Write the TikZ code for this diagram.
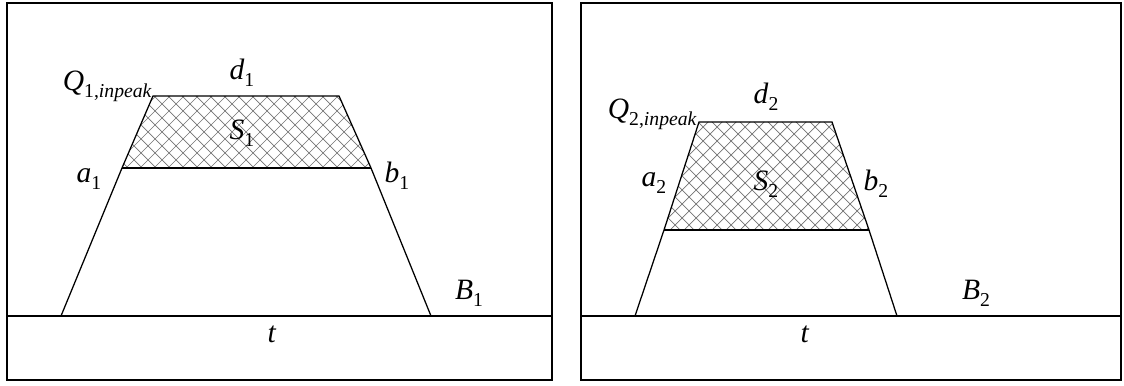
\documentclass[tikz,border=0pt]{standalone}
\usepackage{fontspec}
\setmainfont{Liberation Serif}
\usetikzlibrary{positioning,calc}

\newcommand{\lab}[2]{\textit{#1}\raisebox{-0.45ex}{\fontsize{14}{16}\selectfont #2}}

\tikzset{
    frame/.style={line width=1.4pt},
    side/.style={line width=0.9pt},
    hatch/.style={black!55, line width=0.5pt},
    lbl/.style={font=\fontsize{21}{24}\selectfont, inner sep=0pt}
}

\begin{document}
\begin{tikzpicture}[x=0.025cm, y=-0.025cm]
    \useasboundingbox (0,0) rectangle (1124,386);

    % Left panel
    \draw[frame] (7,3) rectangle (552,380);
    \draw[frame] (7,316) -- (552,316);
    \coordinate (L0) at (61,316);
    \coordinate (L1) at (122,168);
    \coordinate (L2) at (153,96);
    \coordinate (L3) at (339,96);
    \coordinate (L4) at (371,168);
    \coordinate (L5) at (431,316);
    \begin{scope}
        \clip (L1) -- (L2) -- (L3) -- (L4) -- cycle;
        \foreach \k in {-30,...,30} {
            \draw[hatch] ({246+\k*14-150},-18) -- ++(300,300);
            \draw[hatch] ({246+\k*14+150},-18) -- ++(-300,300);
        }
    \end{scope}
    \draw[side] (L0) -- (L1) -- (L2) -- (L3) -- (L4) -- (L5);
    \draw[side] (L1) -- (L4);
    \node[lbl, anchor=base east] (q1) at (152,91) {\lab{Q}{1,\textit{inpeak}}};
    \node[lbl, anchor=base] (d1) at (242,80) {\lab{d}{1}};
    \node[lbl, anchor=base] (s1) at (242,140) {\lab{S}{1}};
    \node[lbl, anchor=base] (a1) at (89,183) {\lab{a}{1}};
    \node[lbl, anchor=base] (b1) at (397,183) {\lab{b}{1}};
    \node[lbl, anchor=base] (B1) at (469,300) {\lab{B}{1}};
    \node[lbl, anchor=base] (t1) at (272,342) {\textit{t}};

    % Right panel
    \draw[frame] (581,3) rectangle (1121,380);
    \draw[frame] (581,316) -- (1121,316);
    \coordinate (R0) at (635,316);
    \coordinate (R1) at (664,230);
    \coordinate (R2) at (699,122);
    \coordinate (R3) at (832,122);
    \coordinate (R4) at (869,230);
    \coordinate (R5) at (897,316);
    \begin{scope}
        \clip (R1) -- (R2) -- (R3) -- (R4) -- cycle;
        \foreach \k in {-30,...,30} {
            \draw[hatch] ({766+\k*14-150},26) -- ++(300,300);
            \draw[hatch] ({766+\k*14+150},26) -- ++(-300,300);
        }
    \end{scope}
    \draw[side] (R0) -- (R1) -- (R2) -- (R3) -- (R4) -- (R5);
    \draw[side] (R1) -- (R4);
    \node[lbl, anchor=base east] (q2) at (697,119) {\lab{Q}{2,\textit{inpeak}}};
    \node[lbl, anchor=base] (d2) at (766,104) {\lab{d}{2}};
    \node[lbl, anchor=base] (s2) at (766,191) {\lab{S}{2}};
    \node[lbl, anchor=base] (a2) at (654,187) {\lab{a}{2}};
    \node[lbl, anchor=base] (b2) at (876,191) {\lab{b}{2}};
    \node[lbl, anchor=base] (B2) at (976,300) {\lab{B}{2}};
    \node[lbl, anchor=base] (t2) at (805,342) {\textit{t}};
\end{tikzpicture}
\end{document}
